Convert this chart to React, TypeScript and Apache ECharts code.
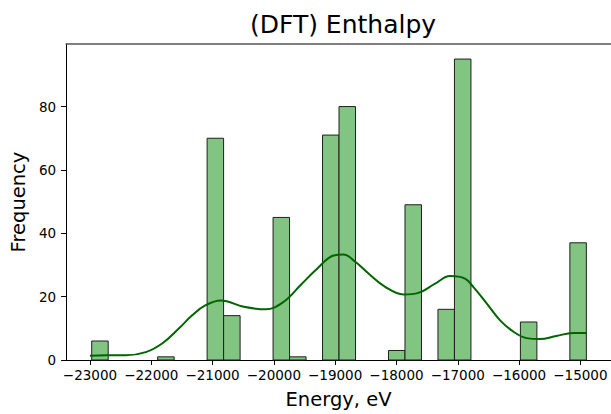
import React, { useEffect, useRef } from "react";
import * as echarts from "echarts";

// Histogram of energies: 30 equal-width bins between dataMin and dataMax
const dataMin = -22972;
const dataMax = -14902;
const binCounts = [
  6, 0, 0, 0, 1, 0, 0, 70, 14, 0,
  0, 45, 1, 0, 71, 80, 0, 0, 3, 49,
  0, 16, 95, 0, 0, 0, 12, 0, 0, 37,
];

// KDE curve (energy, frequency)
const kdeX = [
  -23000, -22740, -22414, -22089, -21817, -21547, -21329, -21113, -20869, -20489,
  -20136, -19839, -19567, -19295, -19025, -18867, -18672, -18456, -18184, -17886,
  -17642, -17370, -17126, -16882, -16747, -16529, -16313, -16096, -15878, -15662,
  -15390, -15120, -14902,
];
const kdeY = [
  1.35, 1.5, 1.5, 2.5, 5.3, 10, 14.2, 17.3, 18.8, 16.8,
  16.0, 18.4, 23.6, 28.8, 33.0, 33.3, 31.0, 27.3, 23.1, 20.7,
  21.2, 24.1, 26.5, 25.7, 23.1, 17.9, 12.6, 9.0, 6.9, 6.6,
  7.6, 8.5, 8.5,
];

const xTicks = [-23000, -22000, -21000, -20000, -19000, -18000, -17000, -16000, -15000];
const yTicks = [0, 20, 40, 60, 80];

const FONT = "DejaVu Sans";

export default function App() {
  const ref = useRef<HTMLDivElement>(null);
  useEffect(() => {
    if (!ref.current) return;
    const chart = echarts.init(ref.current, undefined, { renderer: "svg" });
    const nBins = binCounts.length;
    const bw = (dataMax - dataMin) / nBins;
    const histData = binCounts.map((c, i) => [dataMin + i * bw, dataMin + (i + 1) * bw, c]);
    const kdeData = kdeX.map((x, i) => [x, kdeY[i]]);

    chart.setOption({
      animation: false,
      backgroundColor: "#ffffff",
      title: {
        text: "(DFT) Enthalpy",
        left: 338,
        top: 7,
        textAlign: "center",
        textStyle: { fontFamily: FONT, fontSize: 25, fontWeight: "normal", color: "#000" },
      },
      grid: { left: 65, right: 0, top: 44, bottom: 52, containLabel: false },
      xAxis: [
        {
          type: "value",
          min: -23390,
          max: -14500,
          name: "Energy, eV",
          nameLocation: "middle",
          nameGap: 29,
          nameTextStyle: { fontFamily: FONT, fontSize: 19.5, color: "#000" },
          axisLine: { show: true, onZero: false, lineStyle: { color: "#000", width: 1 } },
          axisTick: { show: true, length: 5, lineStyle: { color: "#000" }, customValues: xTicks },
          axisLabel: {
            fontFamily: FONT,
            fontSize: 13.5,
            color: "#000",
            margin: 8,
            customValues: xTicks,
            formatter: (v: number) => (v < 0 ? "\u2212" + Math.abs(v) : String(v)),
          },
          splitLine: { show: false },
        },
        {
          type: "value",
          position: "top",
          min: -23390,
          max: -14500,
          axisLine: { show: true, onZero: false, lineStyle: { color: "#555", width: 1.5 } },
          axisTick: { show: false },
          axisLabel: { show: false },
          splitLine: { show: false },
        },
      ],
      yAxis: {
        type: "value",
        min: 0,
        max: 99.75,
        name: "Frequency",
        nameLocation: "middle",
        nameGap: 37,
        nameTextStyle: { fontFamily: FONT, fontSize: 19.5, color: "#000" },
        axisLine: { show: true, lineStyle: { color: "#000", width: 1 } },
        axisTick: { show: true, length: 5, lineStyle: { color: "#000" }, customValues: yTicks },
        axisLabel: {
          fontFamily: FONT,
          fontSize: 13.5,
          color: "#000",
          margin: 10,
          customValues: yTicks,
        },
        splitLine: { show: false },
      },
      series: [
        {
          type: "custom",
          xAxisIndex: 0,
          yAxisIndex: 0,
          data: histData,
          encode: { x: [0, 1], y: 2 },
          renderItem: (params: any, api: any) => {
            const x0 = api.value(0);
            const x1 = api.value(1);
            const c = api.value(2);
            if (!c) return null;
            const p0 = api.coord([x0, c]);
            const p1 = api.coord([x1, 0]);
            return {
              type: "rect",
              shape: { x: p0[0], y: p0[1], width: p1[0] - p0[0], height: p1[1] - p0[1] },
              style: { fill: "#82c482", stroke: "#1f1f1f", lineWidth: 1 },
            };
          },
          z: 2,
        },
        {
          type: "line",
          xAxisIndex: 0,
          yAxisIndex: 0,
          data: kdeData,
          smooth: 0.4,
          symbol: "none",
          lineStyle: { color: "#006400", width: 2 },
          z: 3,
        },
      ],
    });
    return () => chart.dispose();
  }, []);
  return (
    <div
      ref={ref}
      style={{ position: "absolute", left: 0, top: 0, width: 611, height: 414 }}
    />
  );
}
